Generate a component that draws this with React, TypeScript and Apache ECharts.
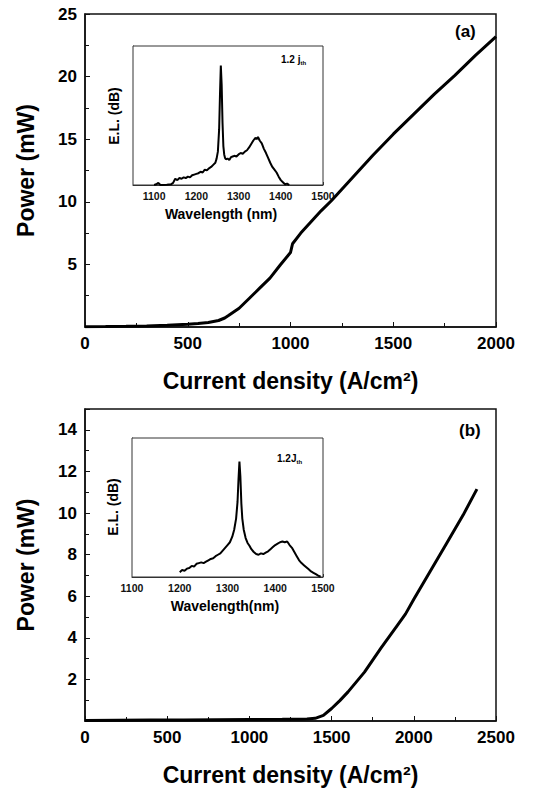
import React, { useEffect, useRef } from "react";
import * as echarts from "echarts";

// Panel (a): L-I curve
const currentA = [0, 100, 200, 300, 400, 500, 550, 600, 650, 680, 700, 750, 800, 850, 900, 950, 1000, 1005, 1010, 1050, 1100, 1150, 1200, 1300, 1400, 1500, 1600, 1700, 1800, 1900, 2000];
const powerA = [0.02, 0.03, 0.05, 0.08, 0.13, 0.22, 0.28, 0.36, 0.52, 0.72, 0.93, 1.5, 2.3, 3.1, 3.9, 4.95, 5.95, 6.3, 6.65, 7.5, 8.4, 9.3, 10.1, 11.9, 13.7, 15.4, 17.0, 18.6, 20.1, 21.7, 23.2];

// Panel (a) inset: EL spectrum
const wavelengthA = [1100, 1105, 1110, 1115, 1120, 1130, 1140, 1145, 1150, 1155, 1160, 1165, 1170, 1175, 1180, 1185, 1190, 1195, 1200, 1205, 1210, 1215, 1220, 1225, 1230, 1235, 1240, 1245, 1248, 1251, 1254, 1256, 1258, 1260, 1262, 1264, 1266, 1268, 1270, 1274, 1278, 1282, 1286, 1290, 1295, 1300, 1305, 1310, 1315, 1320, 1325, 1330, 1335, 1340, 1343, 1346, 1350, 1355, 1360, 1365, 1370, 1375, 1380, 1385, 1390, 1395, 1400, 1405, 1410, 1415, 1420];
const elA = [0, 0.05, 0.15, 0, 0, 0.02, 0.05, 0.15, 0.45, 0.35, 0.5, 0.45, 0.55, 0.5, 0.6, 0.55, 0.7, 0.75, 0.8, 0.85, 0.95, 0.9, 1.1, 1.05, 1.2, 1.3, 1.45, 1.6, 1.9, 2.4, 4.0, 6.5, 8.6, 7.2, 4.5, 2.8, 2.2, 1.95, 1.85, 1.9, 1.8, 2.0, 2.05, 2.1, 2.05, 2.2, 2.3, 2.25, 2.4, 2.5, 2.7, 2.95, 3.2, 3.4, 3.3, 3.45, 3.2, 3.0, 2.6, 2.3, 1.95, 1.6, 1.3, 1.1, 0.9, 0.6, 0.35, 0.2, 0.05, 0.1, 0];

// Panel (b): L-I curve
const currentB = [0, 200, 400, 600, 800, 1000, 1200, 1300, 1350, 1400, 1450, 1500, 1550, 1600, 1700, 1800, 1900, 1950, 2000, 2100, 2200, 2300, 2384];
const powerB = [0.03, 0.04, 0.05, 0.05, 0.06, 0.07, 0.08, 0.09, 0.1, 0.13, 0.27, 0.6, 0.98, 1.4, 2.35, 3.5, 4.6, 5.15, 5.85, 7.2, 8.55, 9.9, 11.15];

// Panel (b) inset: EL spectrum
const wavelengthB = [1200, 1205, 1210, 1215, 1220, 1225, 1230, 1235, 1240, 1245, 1250, 1255, 1260, 1265, 1270, 1275, 1280, 1285, 1290, 1295, 1300, 1305, 1310, 1314, 1318, 1321, 1323, 1325, 1327, 1329, 1331, 1334, 1338, 1342, 1346, 1350, 1355, 1360, 1365, 1370, 1375, 1380, 1385, 1390, 1395, 1400, 1405, 1410, 1415, 1420, 1425, 1430, 1435, 1440, 1445, 1450, 1455, 1460, 1465, 1470, 1475, 1480, 1485, 1490, 1495];
const elB = [0.35, 0.5, 0.45, 0.6, 0.65, 0.8, 0.75, 0.95, 1.0, 1.05, 1.0, 1.1, 1.2, 1.3, 1.35, 1.5, 1.6, 1.7, 1.9, 2.1, 2.3, 2.5, 2.9, 3.4, 4.2, 5.4, 7.0, 8.3, 7.2, 5.3, 4.2, 3.4, 2.8, 2.45, 2.25, 2.0, 1.8, 1.65, 1.6, 1.7, 1.65, 1.75, 1.85, 2.0, 2.15, 2.3, 2.4, 2.5, 2.55, 2.5, 2.55, 2.3, 2.1, 1.8, 1.5, 1.2, 1.0, 0.85, 0.7, 0.55, 0.4, 0.3, 0.2, 0.1, 0.02];

const zip = (xs: number[], ys: number[]) => xs.map((x, i) => [x, ys[i]]);

const FONT = "'Liberation Sans', Arial, sans-serif";
const plain = (v: number) => String(v);
const hundreds = (v: number) => (Math.round(v) % 100 === 0 ? String(Math.round(v)) : "");

export default function App() {
  const ref = useRef<HTMLDivElement>(null);
  useEffect(() => {
    if (!ref.current) return;
    const chart = echarts.init(ref.current, null, { renderer: "svg" });

    const mainX = (gi: number, max: number) => ({
      gridIndex: gi,
      type: "value",
      min: 0,
      max,
      interval: 500,
      axisLine: { show: true, lineStyle: { color: "#111", width: 1.5 } },
      axisTick: { show: true, inside: true, length: 5, lineStyle: { color: "#111" } },
      minorTick: { show: true, splitNumber: 2, length: 4, lineStyle: { color: "#111" } },
      splitLine: { show: false },
      axisLabel: { color: "#000", fontSize: 17, fontWeight: "bold", fontFamily: FONT, margin: 8, formatter: plain },
      name: "Current density (A/cm²)",
      nameLocation: "middle",
      nameGap: 42,
      nameTextStyle: { color: "#000", fontSize: 23, fontWeight: "bold", fontFamily: FONT },
    });
    const mainY = (gi: number, max: number, interval: number, showMax: boolean) => ({
      gridIndex: gi,
      type: "value",
      min: 0,
      max,
      interval,
      axisLine: { show: true, lineStyle: { color: "#111", width: 1.5 } },
      axisTick: { show: true, inside: true, length: 5, lineStyle: { color: "#111" } },
      minorTick: { show: true, splitNumber: 2, length: 4, lineStyle: { color: "#111" } },
      splitLine: { show: false },
      axisLabel: { color: "#000", fontSize: 17, fontWeight: "bold", fontFamily: FONT, margin: 8, showMinLabel: false, showMaxLabel: showMax, formatter: plain },
      name: "Power (mW)",
      nameLocation: "middle",
      nameGap: 48,
      nameTextStyle: { color: "#000", fontSize: 23, fontWeight: "bold", fontFamily: FONT },
    });
    const insetX = (gi: number, min: number) => ({
      gridIndex: gi,
      type: "value",
      min,
      max: 1500,
      interval: 50,
      axisLine: { show: true, lineStyle: { color: "#333", width: 1 } },
      axisTick: { show: true, inside: true, length: 3, lineStyle: { color: "#333" } },
      splitLine: { show: false },
      axisLabel: { color: "#111", fontSize: 10.5, fontWeight: "bold", fontFamily: FONT, margin: 5, formatter: hundreds, hideOverlap: false },
    });
    const insetY = (gi: number) => ({
      gridIndex: gi,
      type: "value",
      min: 0,
      max: 10,
      interval: 1,
      axisLine: { show: true, lineStyle: { color: "#333", width: 1 } },
      axisTick: { show: true, inside: true, length: 3, lineStyle: { color: "#333" } },
      splitLine: { show: false },
      axisLabel: { show: false },
    });

    const lineSeries = (xi: number, data: number[][], width: number, z: number) => ({
      type: "line",
      xAxisIndex: xi,
      yAxisIndex: xi,
      data,
      showSymbol: false,
      symbol: "none",
      lineStyle: { color: "#000", width },
      z,
    });

    const txt = (text: string, x: number, y: number, size: number, rotate = 0) => ({
      type: "text",
      x,
      y,
      rotation: rotate,
      z: 20,
      style: { text, fill: "#000", font: `bold ${size}px ${FONT}`, align: "center", verticalAlign: "middle" },
    });

    chart.setOption({
      animation: false,
      backgroundColor: "#fff",
      grid: [
        { left: 85, top: 14, width: 411, height: 313, show: true, borderColor: "#111", borderWidth: 1.5, backgroundColor: "transparent" },
        { left: 133, top: 46, width: 190, height: 139, show: true, borderColor: "#333", borderWidth: 1, backgroundColor: "#fff", z: 5 },
        { left: 85, top: 409, width: 411, height: 312, show: true, borderColor: "#111", borderWidth: 1.5, backgroundColor: "transparent" },
        { left: 132, top: 438, width: 191, height: 139, show: true, borderColor: "#333", borderWidth: 1, backgroundColor: "#fff", z: 5 },
      ],
      xAxis: [mainX(0, 2000), insetX(1, 1050), mainX(2, 2500), insetX(3, 1100)],
      yAxis: [mainY(0, 25, 5, true), insetY(1), mainY(2, 15, 2, false), insetY(3)],
      series: [
        lineSeries(0, zip(currentA, powerA), 3, 3),
        lineSeries(1, zip(wavelengthA, elA), 2, 10),
        lineSeries(2, zip(currentB, powerB), 3, 3),
        lineSeries(3, zip(wavelengthB, elB), 2, 10),
      ],
      graphic: [
        txt("Wavelength (nm)", 221, 214, 14),
        txt("E.L. (dB)", 114, 116, 14, Math.PI / 2),
        txt("Wavelength(nm)", 225, 606, 14),
        txt("E.L. (dB)", 113, 507, 14, Math.PI / 2),
        { type: "text", left: 455, top: 23, style: { text: "(a)", fill: "#000", font: `bold 17px ${FONT}` } },
        { type: "text", left: 459, top: 422, style: { text: "(b)", fill: "#000", font: `bold 17px ${FONT}` } },
        {
          type: "text",
          left: 281,
          top: 54,
          z: 10,
          style: {
            text: "1.2 j{s|th}",
            fill: "#000",
            font: `bold 10px ${FONT}`,
            rich: { s: { fontSize: 6, fontWeight: "bold", fontFamily: FONT, padding: [7, 0, 0, 0] } },
          },
        },
        {
          type: "text",
          left: 277,
          top: 453,
          z: 10,
          style: {
            text: "1.2J{s|th}",
            fill: "#000",
            font: `bold 10px ${FONT}`,
            rich: { s: { fontSize: 6, fontWeight: "bold", fontFamily: FONT, padding: [7, 0, 0, 0] } },
          },
        },
      ],
    });
    return () => chart.dispose();
  }, []);
  return <div ref={ref} style={{ position: "fixed", left: 0, top: 0, width: 540, height: 793, background: "#fff" }} />;
}
